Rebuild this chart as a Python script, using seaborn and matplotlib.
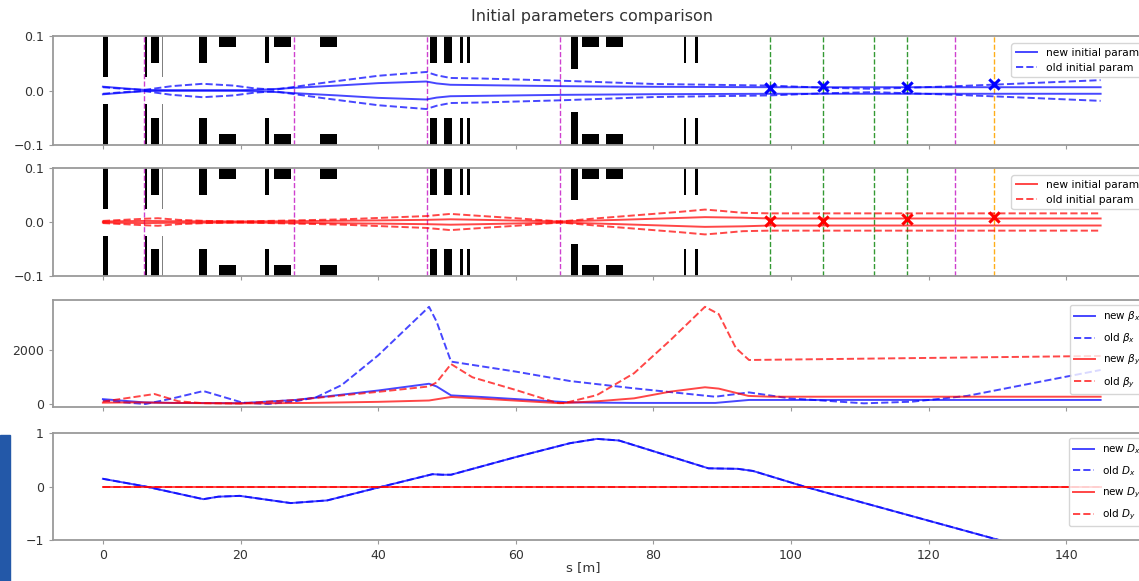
import matplotlib
matplotlib.use("Agg")
import matplotlib.pyplot as plt
import seaborn as sns
from matplotlib.patches import Rectangle

# ---------------- data ----------------
# beamline elements (start [m], length [m], half aperture)
elem_start = [0.0, 6.1, 7.0, 8.65, 13.9, 16.9, 23.5, 24.9, 31.5, 47.5, 49.6, 51.9, 52.9, 68.0, 69.6, 73.1, 84.4, 86.1]
elem_len = [0.75, 0.25, 1.15, 0.15, 1.2, 2.4, 0.6, 2.4, 2.5, 1.1, 1.1, 0.5, 0.45, 1.1, 2.5, 2.5, 0.35, 0.45]
elem_aper = [0.025, 0.025, 0.05, 0.025, 0.05, 0.08, 0.05, 0.08, 0.08, 0.05, 0.05, 0.05, 0.05, 0.04, 0.08, 0.08, 0.05, 0.05]
elem_color = ["black", "black", "black", "grey", "black", "black", "black", "black", "black",
              "black", "black", "black", "black", "black", "black", "black", "black", "black"]

magenta_s = [6.0, 27.8, 47.1, 66.5, 123.9]
green_s = [97.0, 104.6, 112.1, 116.8]
orange_s = [129.5]

marker_s = [97.0, 104.6, 116.8, 129.5]
marker_x = [0.0044, 0.0086, 0.0073, 0.0117]
marker_y = [0.0025, 0.0025, 0.0056, 0.0085]

# beam envelopes
s_sx_new = [0, 3, 6, 10, 15, 20, 24, 28, 34, 40, 47, 48.5, 50.5, 55, 66.5, 80, 97, 145]
sx_new = [0.007, 0.004, 0.0012, 0.0006, 0.0005, 0.0006, 0.002, 0.005, 0.009, 0.0135, 0.0165, 0.013,
          0.0105, 0.0098, 0.008, 0.0068, 0.006, 0.006]
s_sx_old = [0, 3, 6, 10, 14.5, 19, 22, 25, 28, 32, 40, 47, 48.5, 50.5, 55, 66.5, 80, 97, 105, 112,
            117, 124, 130, 145]
sx_old = [0.006, 0.003, 0.001, 0.008, 0.0123, 0.009, 0.004, 0.0015, 0.007, 0.014, 0.027, 0.034, 0.028,
          0.023, 0.022, 0.018, 0.012, 0.009, 0.005, 0.003, 0.005, 0.008, 0.011, 0.019]

s_sy_new = [0, 6, 10, 20, 28, 40, 47, 50.5, 55, 66.5, 75, 87.5, 93, 97, 145]
sy_new = [0.001, 0.002, 0.0015, 0.001, 0.0015, 0.003, 0.004, 0.005, 0.004, 0.001, 0.004, 0.009,
          0.008, 0.0065, 0.0065]
s_sy_old = [0, 3, 6, 8, 11, 15, 20, 28, 35, 43, 47, 50.5, 54, 60, 66.5, 72, 78, 84, 87.5, 89.5, 93, 97, 145]
sy_old = [0.002, 0.004, 0.006, 0.007, 0.004, 0.002, 0.001, 0.003, 0.005, 0.009, 0.011, 0.015, 0.012,
          0.007, 0.001, 0.007, 0.013, 0.019, 0.023, 0.021, 0.017, 0.016, 0.016]

# beta functions
s_bx_old = [0, 3, 6.2, 10, 14.6, 17, 20.3, 24, 28, 31, 34.7, 40, 47.4, 48.5, 50.6, 60, 67.9, 77.2, 89,
            93.9, 99.8, 110.6, 117.6, 125.6, 136.3, 145]
bx_old = [130, 60, 0, 200, 480, 300, 50, 0, 100, 250, 700, 1800, 3600, 3050, 1570, 1200, 850, 580, 270,
          430, 210, 25, 85, 300, 830, 1260]
s_bx_new = [0, 3, 6, 10, 20, 28, 40, 47.4, 48.5, 50.6, 55, 67.9, 77, 89, 93.9, 145]
bx_new = [180, 120, 60, 40, 30, 150, 500, 750, 650, 320, 260, 60, 40, 40, 150, 150]
s_by_old = [0, 3, 7.5, 11, 14.6, 20, 28, 40, 47.4, 48.5, 50.6, 53.7, 60, 65.9, 67, 71.8, 77.2, 82.5,
            87.5, 89.5, 92, 93.9, 145]
by_old = [90, 200, 370, 100, 30, 20, 150, 450, 650, 800, 1480, 990, 520, 50, 30, 330, 1140, 2370,
          3600, 3330, 2070, 1630, 1780]
s_by_new = [0, 5, 10, 20, 30, 40, 47.4, 50.6, 55, 66.4, 71.8, 77.2, 82.5, 87.5, 89.5, 93.8, 97, 145]
by_new = [50, 60, 40, 20, 40, 80, 130, 260, 200, 30, 100, 210, 460, 620, 570, 300, 270, 270]

# dispersion
s_d = [0, 6.2, 14.6, 16.8, 19.9, 27.3, 32.6, 40, 47.9, 49.3, 50.6, 60, 67.9, 71.8, 75, 88, 92.3, 94.5,
       101.9, 130.5, 145]
dx_new = [0.144, 0.0, -0.237, -0.19, -0.175, -0.31, -0.26, -0.02, 0.23, 0.22, 0.22, 0.55, 0.81, 0.89,
          0.86, 0.34, 0.33, 0.29, 0.0, -1.01, -1.5]
dx_old = [0.144, 0.0, -0.237, -0.19, -0.175, -0.31, -0.26, -0.02, 0.23, 0.22, 0.22, 0.55, 0.81, 0.89,
          0.86, 0.34, 0.33, 0.29, 0.0, -1.01, -1.5]
s_dy = [0, 145]
dy_new = [0.0, 0.0]
dy_old = [0.0, 0.0]

# ---------------- figure ----------------
W, H = 1139, 581
fig = plt.figure(figsize=(W / 100, H / 100), dpi=100)

left = 53 / W
width = (1150.5 - 53) / W
panels_px = [(36, 145), (168, 276), (300, 407), (433, 540)]
axes = []
for i, (t, b) in enumerate(panels_px):
    kw = {} if i == 0 else {"sharex": axes[0]}
    ax = fig.add_axes([left, (H - b) / H, width, (b - t) / H], **kw)
    axes.append(ax)

spine_col = "#9a9a9a"
for ax in axes:
    for sp in ax.spines.values():
        sp.set_color(spine_col)
        sp.set_linewidth(1.3)
    ax.tick_params(colors=spine_col, labelcolor="#333333", labelsize=9, length=3)

ALPHA = 0.72
LW = 1.4


def line(ax, x, y, color, ls="-", label=None):
    sns.lineplot(x=x, y=y, ax=ax, color=color, linestyle=ls, lw=LW, alpha=ALPHA,
                 estimator=None, sort=False, legend=False)
    ln = ax.lines[-1]
    if label:
        ln.set_label(label)
    return ln


def envelope_panel(ax, s_new, v_new, s_old, v_old, color, m_vals):
    # elements
    ax.bar(elem_start, [1.0] * len(elem_start), bottom=elem_aper, width=elem_len,
           align="edge", color=elem_color, linewidth=0, zorder=1)
    ax.bar(elem_start, [-1.0] * len(elem_start), bottom=[-a for a in elem_aper], width=elem_len,
           align="edge", color=elem_color, linewidth=0, zorder=1)
    for s in magenta_s:
        ax.axvline(s, color="m", ls="--", lw=1.0, alpha=0.75, zorder=2)
    for s in green_s:
        ax.axvline(s, color="g", ls="--", lw=1.0, alpha=0.8, zorder=2)
    for s in orange_s:
        ax.axvline(s, color="orange", ls="--", lw=1.0, alpha=0.9, zorder=2)
    h1 = line(ax, s_new, v_new, color, "-", "new initial param")
    line(ax, s_new, [-v for v in v_new], color, "-")
    h2 = line(ax, s_old, v_old, color, "--", "old initial param")
    line(ax, s_old, [-v for v in v_old], color, "--")
    sns.scatterplot(x=marker_s, y=m_vals, ax=ax, marker="x", color=color, s=55,
                    linewidth=2.2, zorder=5, legend=False)
    ax.set_ylim(-0.1, 0.1)
    ax.set_yticks([-0.1, 0.0, 0.1])
    ax.set_yticklabels(["\u22120.1", "0.0", "0.1"])
    ax.legend(handles=[h1, h2], loc="upper right", fontsize=7.7, borderaxespad=0.7)


envelope_panel(axes[0], s_sx_new, sx_new, s_sx_old, sx_old, "blue", marker_x)
envelope_panel(axes[1], s_sy_new, sy_new, s_sy_old, sy_old, "red", marker_y)

ax3 = axes[2]
h = [line(ax3, s_bx_new, bx_new, "blue", "-", r"new $\beta_x$"),
     line(ax3, s_bx_old, bx_old, "blue", "--", r"old $\beta_x$"),
     line(ax3, s_by_new, by_new, "red", "-", r"new $\beta_y$"),
     line(ax3, s_by_old, by_old, "red", "--", r"old $\beta_y$")]
ax3.set_ylim(-111, 3852)
ax3.set_yticks([0, 2000])
ax3.legend(handles=h, loc="upper right", fontsize=7.5, labelspacing=0.75)

ax4 = axes[3]
h = [line(ax4, s_d, dx_new, "blue", "-", r"new $D_x$"),
     line(ax4, s_d, dx_old, "blue", "--", r"old $D_x$"),
     line(ax4, s_dy, dy_new, "red", "-", r"new $D_y$"),
     line(ax4, s_dy, dy_old, "red", "--", r"old $D_y$")]
ax4.set_ylim(-1, 1)
ax4.set_yticks([-1, 0, 1])
ax4.set_yticklabels(["\u22121", "0", "1"])
ax4.legend(handles=h, loc="upper right", fontsize=7.5, labelspacing=0.75)

axes[0].set_xlim(-7.25, 152.25)
axes[0].set_xticks([0, 20, 40, 60, 80, 100, 120, 140])
for ax in axes[:3]:
    ax.tick_params(labelbottom=False)
ax4.set_xlabel("s [m]", fontsize=9.5, color="#333333")
ax4.xaxis.set_label_coords((583 - 53) / (1150.5 - 53), -0.2)

fig.text(592 / W, 1 - 16 / H, "Initial parameters comparison", ha="center", va="center",
         fontsize=11.5, color="#333333")

# slide background strip visible at the left edge of the screenshot
fig.patches.append(Rectangle((0, 0), 10 / W, (H - 435) / H, transform=fig.transFigure,
                             color="#2358a8", zorder=0))

fig.savefig("out.png", dpi=100)
